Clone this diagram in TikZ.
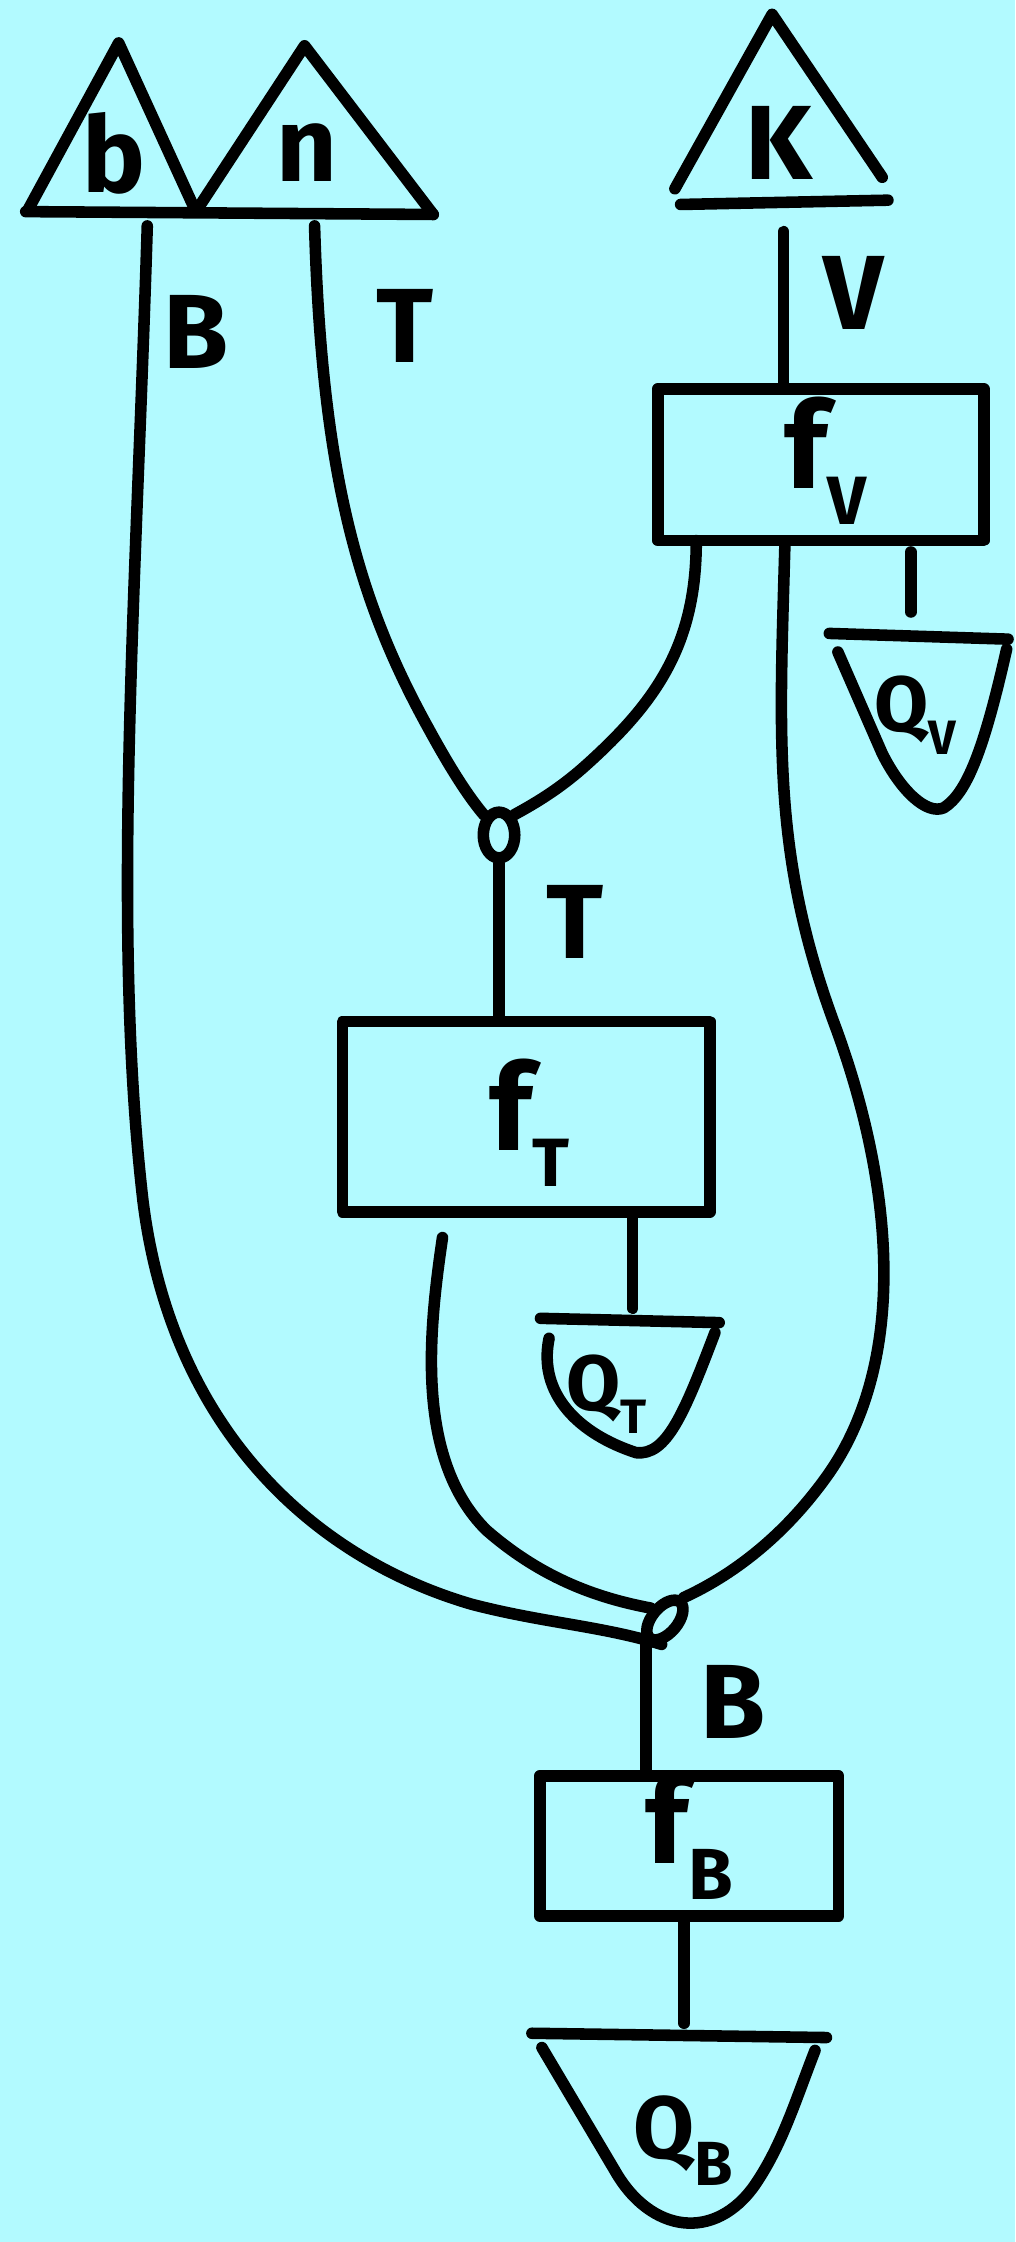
\documentclass[tikz,border=0pt]{standalone}
\usepackage{fontspec}
\setmainfont{Fira Sans}
\usetikzlibrary{shapes.geometric,calc}
\definecolor{bg}{RGB}{178,250,255}
\newcommand\subl[2]{\raisebox{-0.3em}{\fontsize{#1}{#1}\selectfont #2}}
\begin{document}
\begin{tikzpicture}[x=0.05cm,y=-0.05cm,
  ink/.style={line width=11.5pt, line cap=round, line join=round},
  fbox/.style={draw, ink, rectangle, inner sep=0pt},
  lbl/.style={font=\fontsize{105}{105}\selectfont\bfseries, inner sep=0pt},
  flbl/.style={font=\fontsize{120}{120}\selectfont\bfseries, inner sep=0pt},
  qlbl/.style={font=\fontsize{78}{78}\selectfont\bfseries, inner sep=0pt},
  junc/.style={draw, ink, ellipse, inner sep=0pt},
]
\fill[bg] (0,0) rectangle (710,1568);
\useasboundingbox (0,0) rectangle (710,1568);

% ---- states (triangles)
\draw[ink] (20,146) -- (83,30) -- (137,148);
\draw[ink] (137,148) -- (213,32) -- (303,150);
\draw[ink] (18,148) -- (303,150);
\node[lbl] (lb) at (80,107) {b};
\node[lbl] (ln) at (215,107) {n};
\coordinate (bout) at (103,158);
\coordinate (nout) at (220,158);

\draw[ink] (472,132) -- (540,10) -- (617,124);
\draw[ink] (476,143) -- (621,140);
\node[lbl] (lK) at (545,100) {K};
\coordinate (Kout) at (548,162);

% ---- boxes
\node[fbox, minimum width=11.4cm, minimum height=5.3cm] (fV) at (574,325) {};
\node[flbl] (fVl) at (577,322) {f\subl{68}{V}};
\node[fbox, minimum width=12.85cm, minimum height=6.65cm] (fT) at (368,781) {};
\node[flbl] (fTl) at (370,785) {f\subl{68}{T}};
\node[fbox, minimum width=10.45cm, minimum height=4.9cm] (fB) at (482,1291) {};
\node[flbl] (fBl) at (482,1284) {f\subl{72}{B}};

% ---- junctions
\node[junc, minimum width=1.1cm, minimum height=1.6cm] (upj) at (349,584) {};
\node[junc, minimum width=0.9cm, minimum height=1.65cm, rotate=-40] (lowj) at (465,1133) {};

% ---- effects (cups)
\draw[ink] (580,443) -- (705,447);
\draw[ink] (586,456) -- (617,527) .. controls (630,553) and (648,570) .. (660,565)
  .. controls (676,555) and (688,525) .. (704,454);
\node[qlbl] (lQV) at (640,500) {Q\subl{48}{V}};

\draw[ink] (378,922) -- (503,925);
\draw[ink] (384,936) .. controls (376,975) and (405,1003) .. (445,1016)
  .. controls (466,1018) and (478,990) .. (500,932);
\node[qlbl] (lQT) at (424,975) {Q\subl{48}{T}};

\draw[ink] (372,1422) -- (578,1425);
\draw[ink] (379,1432) -- (430,1518) .. controls (455,1562) and (500,1568) .. (528,1528)
  .. controls (547,1500) and (556,1470) .. (570,1434);
\node[qlbl, font=\fontsize{88}{88}\selectfont\bfseries] (lQB) at (478,1497) {Q\subl{62}{B}};

% ---- wires
\coordinate (fVa) at ($(fV.south west)+(31,-4)$);
\coordinate (fVb) at ($(fV.south west)+(93,-2)$);
\coordinate (fVc) at ($(fV.south west)+(181,4)$);
\coordinate (fTa) at ($(fT.south west)+(74,14)$);
\coordinate (fTb) at ($(fT.south west)+(207,-4)$);
\coordinate (fBb) at ($(fB.south west)+(105,0)$);
\coordinate (QVt) at (637,428);
\coordinate (QTt) at (441,915);
\coordinate (QBt) at (483,1415);

\draw[ink] (Kout) -- (fV.north -| Kout);
\draw[ink] (fVc) -- (fVc |- QVt);
\draw[ink] (bout) .. controls (95,420) and (78,650) .. (100,840)
  .. controls (120,1000) and (220,1090) .. (330,1122)
  .. controls (380,1135) and (420,1137) .. (lowj.south east);
\draw[ink] (nout) .. controls (225,330) and (250,420) .. (300,510)
  .. controls (318,543) and (330,560) .. (upj.north west);
\draw[ink] (fVa) .. controls (487,450) and (460,490) .. (410,535)
  .. controls (390,553) and (372,563) .. (upj.north east);
\draw[ink] (fVb) .. controls (545,520) and (540,600) .. (585,720)
  .. controls (625,830) and (635,950) .. (580,1030)
  .. controls (545,1080) and (505,1105) .. (lowj.north);
\draw[ink] (upj.south) -- (fT.north -| upj.south);
\draw[ink] (fTb) -- (fTb |- QTt);
\draw[ink] (fTa) .. controls (300,930) and (290,1020) .. (340,1070)
  .. controls (380,1105) and (420,1118) .. (lowj.west);
\draw[ink] (lowj.south) -- (fB.north -| lowj.south);
\draw[ink] (fBb) -- (QBt -| fBb);

% ---- wire labels
\node[lbl] (wB) at (137,232) {B};
\node[lbl] (wT) at (283,228) {T};
\node[lbl] (wV) at (597,205) {V};
\node[lbl] (wT2) at (402,645) {T};
\node[lbl] (wB2) at (513,1190) {B};
\end{tikzpicture}
\end{document}
